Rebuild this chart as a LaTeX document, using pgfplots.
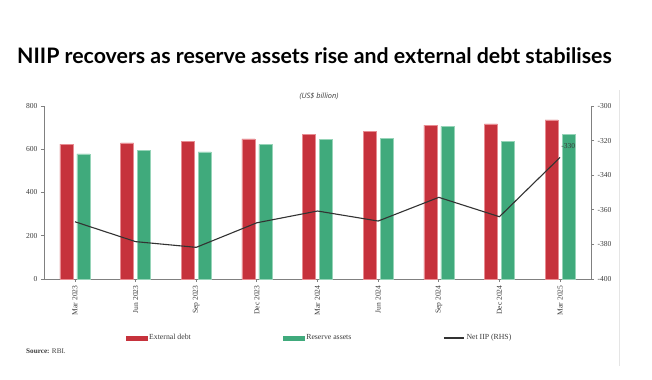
\documentclass[border=0pt]{standalone}
\usepackage{fontspec}
\setmainfont{Liberation Serif}
\newfontfamily\titlefont{Lato}
\newfontfamily\labfont{Open Sans}
\usepackage{pgfplots}
\pgfplotsset{compat=1.18}
\definecolor{edred}{RGB}{198,50,60}
\definecolor{edredl}{RGB}{232,140,146}
\definecolor{rsgreen}{RGB}{64,170,124}
\definecolor{rsgreenl}{RGB}{150,212,184}
\definecolor{axgray}{RGB}{128,128,128}
\definecolor{txtgray}{RGB}{60,60,60}
\definecolor{netline}{RGB}{50,50,50}

\pgfplotstableread{
x ext res
0 624.3 578.4
1 629.1 595.1
2 635.3 587.9
3 648.2 622.5
4 668.8 646.4
5 682.2 652.0
6 711.8 705.8
7 717.9 637.0
8 736.3 668.3
}\bardata

\pgfplotstableread{
x niip
0 -366.9
1 -378.4
2 -381.7
3 -367.5
4 -360.7
5 -366.5
6 -352.8
7 -364.0
8 -329.7
}\linedata

\begin{document}
\begin{tikzpicture}
\path[use as bounding box, fill=white] (0,0) rectangle (652bp,-380bp);
\node[anchor=base west, inner sep=0, font=\titlefont\bfseries\fontsize{21.4}{24}\selectfont] at (17bp,-63bp) {NIIP recovers as reserve assets rise and external debt stabilises};
\node[font=\labfont\itshape\fontsize{7.4}{9}\selectfont, text=txtgray] at (319bp,-96bp) {(US\$ billion)};
\draw[gray!20, line width=0.6bp] (619bp,-90bp) -- (619bp,-366bp);
\node[anchor=base west, inner sep=0, font=\fontsize{7.2}{9}\selectfont, text=txtgray] at (26bp,-353bp) {\textbf{Source:} RBI.};

\begin{axis}[
  at={(44bp,-279bp)}, anchor=south west,
  width=547bp, height=173bp, scale only axis,
  xmin=-0.51, xmax=8.51, ymin=0, ymax=800,
  axis x line*=bottom, axis y line*=left,
  xtick={0,...,8},
  xticklabels={Mar 2023,Jun 2023,Sep 2023,Dec 2023,Mar 2024,Jun 2024,Sep 2024,Dec 2024,Mar 2025},
  ytick={0,200,400,600,800},
  yticklabels={0,200,400,600,800},
  x tick label style={rotate=90, anchor=east, font=\fontsize{7.6}{9}\selectfont, text=txtgray},
  y tick label style={font=\fontsize{7.6}{9}\selectfont, text=txtgray},
  tick align=outside, major tick length=3bp,
  axis line style={axgray, line width=0.8bp},
  tick style={axgray, line width=0.8bp},
  ybar=4bp, bar width=13bp,
  legend style={at={(0.149,-0.341)}, anchor=west, draw=none, fill=none,
    inner sep=0pt, font=\fontsize{7.8}{9}\selectfont, text=txtgray,
    legend columns=3,
    /tikz/every even column/.append style={column sep=90bp}},
  legend cell align=left,
]
\addplot[fill=edred, draw=edredl, line width=0.5bp,
  legend image code/.code={\fill[edred] (0bp,-2bp) rectangle (21bp,2bp);}]
  table[x=x, y=ext] {\bardata};
\addlegendentry{External debt}
\addplot[fill=rsgreen, draw=rsgreenl, line width=0.5bp,
  legend image code/.code={\fill[rsgreen] (0bp,-2bp) rectangle (21bp,2bp);}]
  table[x=x, y=res] {\bardata};
\addlegendentry{Reserve assets}
\addlegendimage{legend image code/.code={\draw[netline, line width=1.1bp] (0bp,0bp) -- (20bp,0bp);}}
\addlegendentry{Net IIP (RHS)}
\end{axis}

\begin{axis}[
  at={(44bp,-279bp)}, anchor=south west,
  width=547bp, height=173bp, scale only axis,
  xmin=-0.51, xmax=8.51, ymin=-400, ymax=-300,
  axis y line*=right, axis x line=none,
  ytick={-400,-380,-360,-340,-320,-300},
  yticklabels={-400,-380,-360,-340,-320,-300},
  y tick label style={font=\fontsize{7.6}{9}\selectfont, text=txtgray},
  tick align=outside, major tick length=3bp,
  axis line style={axgray, line width=0.8bp},
  tick style={axgray, line width=0.8bp},
]
\addplot[netline, line width=1.1bp, mark=none] table[x=x, y=niip] {\linedata};
\node[anchor=south west, inner sep=1bp, yshift=8bp, font=\fontsize{7.6}{9}\selectfont, text=txtgray] at (axis cs:8,-329.7) {-330};
\end{axis}
\end{tikzpicture}
\end{document}
